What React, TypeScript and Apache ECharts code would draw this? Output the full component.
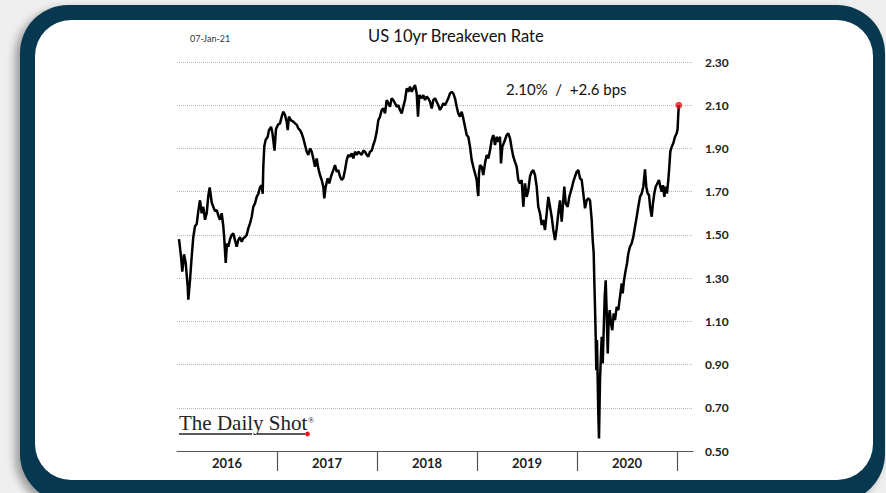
import React, { useEffect, useRef } from "react";
import * as echarts from "echarts";

// Dates as decimal years (2016.0 = 1 Jan 2016)
const times: number[] = [
  2016.02, 2016.04, 2016.053, 2016.07, 2016.087, 2016.107, 2016.113, 2016.13, 2016.147, 2016.163,
  2016.18, 2016.197, 2016.213, 2016.23, 2016.247, 2016.263, 2016.28, 2016.297, 2016.313, 2016.327,
  2016.347, 2016.363, 2016.38, 2016.397, 2016.413, 2016.43, 2016.447, 2016.463, 2016.473, 2016.487,
  2016.5, 2016.513, 2016.53, 2016.547, 2016.563, 2016.58, 2016.597, 2016.613, 2016.63, 2016.647,
  2016.663, 2016.68, 2016.697, 2016.713, 2016.73, 2016.747, 2016.763, 2016.78, 2016.797, 2016.813,
  2016.83, 2016.847, 2016.857, 2016.863, 2016.873, 2016.887, 2016.907, 2016.92, 2016.94, 2016.955,
  2016.975, 2016.99, 2017.01, 2017.03, 2017.047, 2017.063, 2017.08, 2017.097, 2017.107, 2017.12,
  2017.14, 2017.163, 2017.18, 2017.197, 2017.213, 2017.23, 2017.247, 2017.263, 2017.28, 2017.297,
  2017.313, 2017.33, 2017.347, 2017.363, 2017.38, 2017.397, 2017.413, 2017.43, 2017.447, 2017.463,
  2017.473, 2017.487, 2017.507, 2017.523, 2017.54, 2017.563, 2017.58, 2017.597, 2017.613, 2017.63,
  2017.647, 2017.663, 2017.68, 2017.697, 2017.713, 2017.73, 2017.747, 2017.763, 2017.78, 2017.797,
  2017.813, 2017.83, 2017.847, 2017.863, 2017.88, 2017.897, 2017.913, 2017.93, 2017.947, 2017.963,
  2017.98, 2017.997, 2018.013, 2018.03, 2018.047, 2018.063, 2018.08, 2018.097, 2018.113, 2018.13,
  2018.147, 2018.163, 2018.18, 2018.197, 2018.213, 2018.23, 2018.247, 2018.263, 2018.28, 2018.297,
  2018.313, 2018.33, 2018.347, 2018.363, 2018.38, 2018.397, 2018.41, 2018.423, 2018.447, 2018.463,
  2018.48, 2018.497, 2018.513, 2018.53, 2018.547, 2018.563, 2018.58, 2018.597, 2018.613, 2018.63,
  2018.647, 2018.663, 2018.68, 2018.697, 2018.713, 2018.73, 2018.747, 2018.763, 2018.78, 2018.797,
  2018.813, 2018.83, 2018.847, 2018.863, 2018.88, 2018.897, 2018.913, 2018.93, 2018.947, 2018.963,
  2018.98, 2018.997, 2019.007, 2019.013, 2019.02, 2019.03, 2019.047, 2019.063, 2019.08, 2019.097,
  2019.113, 2019.13, 2019.147, 2019.163, 2019.18, 2019.197, 2019.213, 2019.23, 2019.24, 2019.253,
  2019.273, 2019.297, 2019.313, 2019.33, 2019.347, 2019.363, 2019.38, 2019.397, 2019.413, 2019.43,
  2019.447, 2019.463, 2019.48, 2019.497, 2019.513, 2019.53, 2019.547, 2019.563, 2019.58, 2019.597,
  2019.613, 2019.63, 2019.647, 2019.663, 2019.68, 2019.697, 2019.713, 2019.73, 2019.747, 2019.763,
  2019.78, 2019.797, 2019.813, 2019.83, 2019.847, 2019.863, 2019.873, 2019.887, 2019.907, 2019.923,
  2019.947, 2019.963, 2019.98, 2019.997, 2020.013, 2020.03, 2020.047, 2020.063, 2020.08, 2020.097,
  2020.113, 2020.13, 2020.147, 2020.157, 2020.167, 2020.173, 2020.18, 2020.187, 2020.193, 2020.2,
  2020.207, 2020.213, 2020.22, 2020.23, 2020.24, 2020.247, 2020.257, 2020.267, 2020.277, 2020.287,
  2020.297, 2020.307, 2020.317, 2020.327, 2020.34, 2020.353, 2020.367, 2020.38, 2020.397, 2020.413,
  2020.43, 2020.447, 2020.457, 2020.47, 2020.487, 2020.5, 2020.513, 2020.53, 2020.547, 2020.563,
  2020.58, 2020.597, 2020.613, 2020.63, 2020.647, 2020.663, 2020.68, 2020.693, 2020.707, 2020.72,
  2020.733, 2020.747, 2020.76, 2020.773, 2020.787, 2020.803, 2020.82, 2020.833, 2020.847, 2020.86,
  2020.873, 2020.887, 2020.9, 2020.913, 2020.923, 2020.933, 2020.947, 2020.963, 2020.98, 2020.997,
  2021.006, 2021.012, 2021.018,
];

// US 10yr breakeven rate, %
const rates: number[] = [
  1.48, 1.4, 1.33, 1.41, 1.37, 1.26, 1.2, 1.29, 1.4, 1.49,
  1.54, 1.55, 1.61, 1.66, 1.6, 1.63, 1.57, 1.6, 1.68, 1.72,
  1.65, 1.63, 1.61, 1.615, 1.59, 1.57, 1.6, 1.54, 1.48, 1.37,
  1.46, 1.445, 1.48, 1.5, 1.507, 1.476, 1.445, 1.476, 1.49, 1.468,
  1.484, 1.49, 1.5, 1.53, 1.553, 1.584, 1.63, 1.646, 1.676, 1.69,
  1.72, 1.73, 1.69, 1.815, 1.91, 1.94, 1.954, 1.985, 2.0, 1.97,
  1.89, 1.99, 2.01, 2.016, 2.047, 2.07, 2.055, 2.024, 1.985, 2.047,
  2.03, 2.024, 2.016, 2.01, 1.993, 1.985, 1.97, 1.947, 1.916, 1.885,
  1.87, 1.9, 1.885, 1.854, 1.815, 1.854, 1.808, 1.777, 1.754, 1.723,
  1.669, 1.723, 1.762, 1.738, 1.77, 1.8, 1.823, 1.792, 1.8, 1.77,
  1.754, 1.762, 1.8, 1.846, 1.87, 1.862, 1.877, 1.854, 1.885, 1.87,
  1.885, 1.877, 1.87, 1.89, 1.885, 1.87, 1.862, 1.885, 1.89, 1.916,
  1.94, 1.977, 2.03, 2.047, 2.078, 2.085, 2.062, 2.124, 2.109, 2.093,
  2.132, 2.124, 2.109, 2.093, 2.1, 2.078, 2.062, 2.093, 2.124, 2.178,
  2.162, 2.186, 2.162, 2.178, 2.193, 2.155, 2.047, 2.147, 2.132, 2.147,
  2.124, 2.14, 2.132, 2.116, 2.085, 2.124, 2.132, 2.116, 2.1, 2.078,
  2.093, 2.109, 2.1, 2.116, 2.132, 2.155, 2.162, 2.155, 2.132, 2.093,
  2.062, 2.047, 2.07, 2.039, 2.0, 1.962, 1.954, 1.908, 1.846, 1.815,
  1.785, 1.754, 1.7, 1.68, 1.785, 1.823, 1.815, 1.777, 1.831, 1.87,
  1.854, 1.89, 1.94, 1.962, 1.916, 1.954, 1.931, 1.954, 1.831, 1.908,
  1.931, 1.962, 1.97, 1.947, 1.9, 1.862, 1.838, 1.815, 1.754, 1.738,
  1.754, 1.63, 1.738, 1.676, 1.707, 1.77, 1.792, 1.8, 1.777, 1.723,
  1.63, 1.6, 1.546, 1.569, 1.523, 1.6, 1.676, 1.63, 1.584, 1.523,
  1.476, 1.53, 1.6, 1.66, 1.561, 1.66, 1.723, 1.646, 1.63, 1.676,
  1.715, 1.746, 1.77, 1.792, 1.8, 1.762, 1.754, 1.692, 1.623, 1.66,
  1.669, 1.66, 1.569, 1.476, 1.415, 1.29, 1.167, 1.028, 0.874, 1.013,
  0.828, 0.674, 0.558, 0.828, 0.951, 1.028, 0.905, 1.059, 1.213, 1.29,
  1.137, 0.951, 1.106, 1.152, 1.09, 1.059, 1.137, 1.106, 1.167, 1.152,
  1.213, 1.275, 1.229, 1.29, 1.337, 1.368, 1.414, 1.445, 1.461, 1.491,
  1.538, 1.584, 1.63, 1.676, 1.692, 1.723, 1.803, 1.723, 1.692, 1.684,
  1.623, 1.584, 1.646, 1.692, 1.723, 1.738, 1.754, 1.723, 1.7, 1.73,
  1.676, 1.723, 1.692, 1.754, 1.815, 1.885, 1.908, 1.924, 1.954, 1.97,
  1.99, 2.05, 2.1,
];

const yearTicks: number[] = [2017, 2018, 2019, 2020, 2021];
const yearLabels: number[] = [2016, 2017, 2018, 2019, 2020];
const yTicks: string[] = ["0.50", "0.70", "0.90", "1.10", "1.30", "1.50", "1.70", "1.90", "2.10", "2.30"];

const TITLE = "US 10yr Breakeven Rate";
const DATE_LABEL = "07-Jan-21";
const ANNOTATION = "2.10%  /  +2.6 bps";

export default function App() {
  const ref = useRef<HTMLDivElement>(null);

  useEffect(() => {
    if (!ref.current) return;
    const chart = echarts.init(ref.current, undefined, { renderer: "svg" });
    const lineData = times.map((t, i) => [t, rates[i]]);
    const last = times.length - 1;
    const yMin = parseFloat(yTicks[0]);
    const yMax = parseFloat(yTicks[yTicks.length - 1]);
    const option: any = {
      animation: false,
      backgroundColor: "transparent",
      title: {
        text: TITLE,
        left: 368,
        top: 27,
        padding: 0,
        textStyle: { fontFamily: "Lato", fontSize: 16.5, fontWeight: "normal", color: "#111" },
      },
      grid: { left: 177, right: 193, top: 62, bottom: 42, containLabel: false },
      xAxis: {
        type: "value",
        min: 2016,
        max: 2021.16,
        axisLine: { show: true, lineStyle: { color: "#555", width: 1.2 } },
        axisTick: {
          show: true,
          customValues: yearTicks,
          length: 20,
          lineStyle: { color: "#555", width: 1.2 },
        },
        axisLabel: {
          customValues: yearLabels.map((y) => y + 0.5),
          formatter: (v: number) => String(Math.floor(v)),
          fontFamily: "Lato",
          fontWeight: "bold",
          fontSize: 13,
          color: "#222",
          margin: 5,
        },
        splitLine: { show: false },
      },
      yAxis: {
        type: "value",
        position: "right",
        min: yMin,
        max: yMax,
        interval: 0.2,
        axisLine: { show: false },
        axisTick: { show: false },
        axisLabel: {
          formatter: (v: number) => v.toFixed(2),
          margin: 12,
          fontFamily: "Lato",
          fontWeight: "bold",
          fontSize: 12,
          color: "#222",
        },
        splitLine: { show: true, lineStyle: { type: "dotted", color: "#b8b8b8", width: 1 } },
      },
      series: [
        {
          type: "line",
          data: lineData,
          showSymbol: false,
          lineStyle: { color: "#000", width: 2.5 },
          z: 3,
        },
        {
          type: "scatter",
          data: [[times[last], rates[last]]],
          symbolSize: 7,
          itemStyle: { color: "#e8141c" },
          z: 4,
        },
      ],
      graphic: [
        {
          type: "text",
          left: 190,
          top: 34,
          style: { text: DATE_LABEL, fontFamily: "Lato", fontSize: 9, fill: "#333" },
        },
        {
          type: "text",
          left: 506,
          top: 81,
          style: { text: ANNOTATION, fontFamily: "Lato", fontSize: 15, fill: "#111" },
        },
        {
          type: "text",
          left: 179,
          top: 412,
          style: {
            text: "The Daily Shot",
            fontFamily: "Liberation Serif",
            fontSize: 21,
            fill: "#222",
          },
        },
        {
          type: "text",
          left: 308,
          top: 416,
          style: { text: "®", fontFamily: "Liberation Serif", fontSize: 8, fill: "#222" },
        },
        {
          type: "line",
          shape: { x1: 179, y1: 434, x2: 252, y2: 434 },
          style: { stroke: "#222", lineWidth: 1.3 },
        },
        {
          type: "line",
          shape: { x1: 257, y1: 434, x2: 305, y2: 434 },
          style: { stroke: "#222", lineWidth: 1.3 },
        },
        {
          type: "circle",
          shape: { cx: 307.5, cy: 434, r: 2.4 },
          style: { fill: "#e8141c" },
        },
      ],
    };
    chart.setOption(option);
    return () => chart.dispose();
  }, []);

  return (
    <div
      style={{
        position: "fixed",
        left: 0,
        top: 0,
        width: 886,
        height: 493,
        overflow: "hidden",
        background: "#efefef",
      }}
    >
      <div
        style={{
          position: "absolute",
          left: 20,
          top: 5,
          width: 865,
          height: 497,
          borderRadius: 48,
          background: "#07384f",
          boxShadow: "-5px 4px 9px rgba(0,0,0,0.35)",
        }}
      />
      <div
        style={{
          position: "absolute",
          left: 35,
          top: 20,
          width: 838,
          height: 460,
          borderRadius: 36,
          background: "#ffffff",
        }}
      />
      <div ref={ref} style={{ position: "absolute", left: 0, top: 0, width: 886, height: 493 }} />
    </div>
  );
}
